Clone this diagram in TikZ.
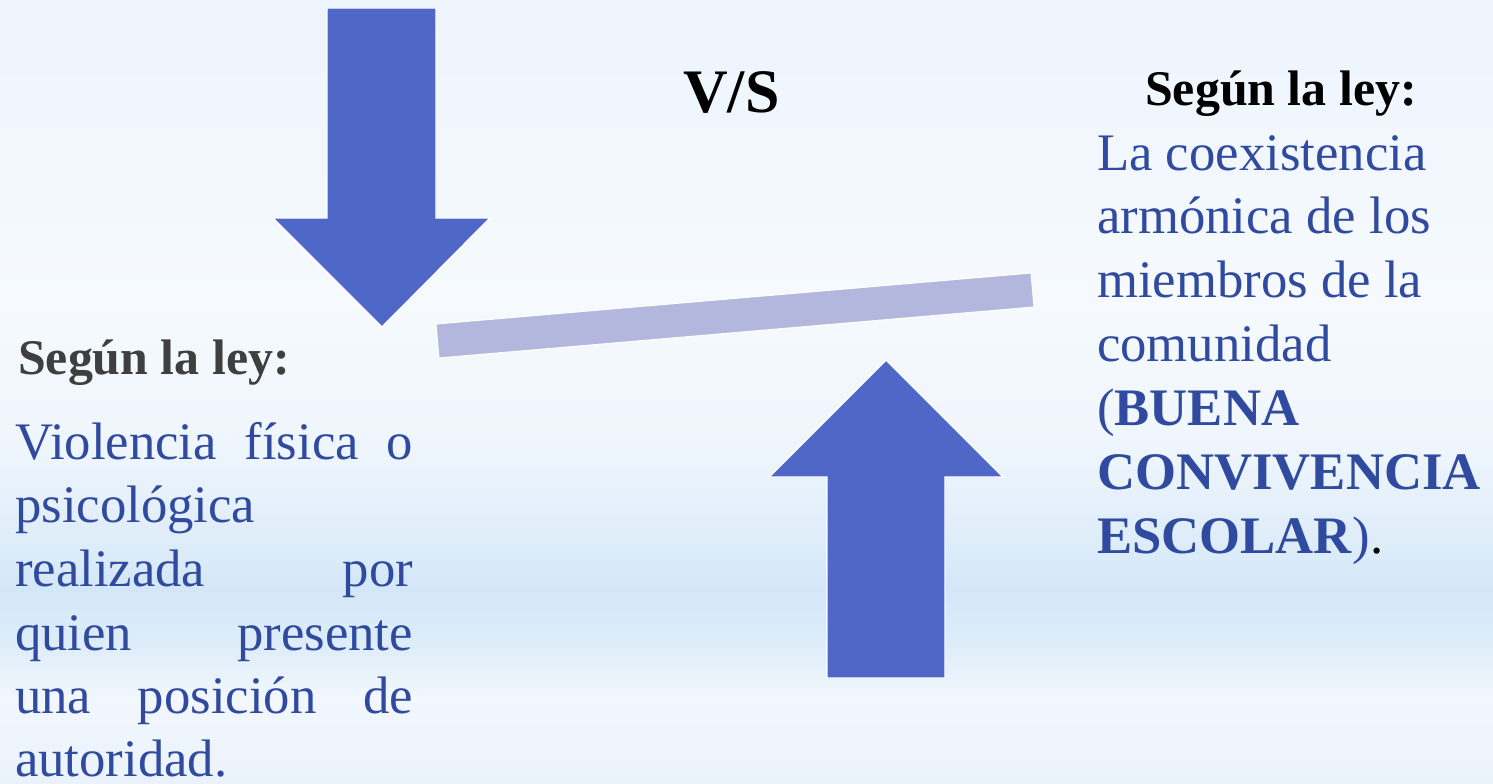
\documentclass[tikz,border=0pt]{standalone}
\usepackage{fontspec}
\setmainfont{Liberation Serif}
\definecolor{arrowblue}{HTML}{4F68C8}
\definecolor{barcol}{HTML}{B3B7DE}
\definecolor{txtblue}{HTML}{2F4A9E}
\definecolor{txtgray}{HTML}{3F3F3F}
\definecolor{bgA}{HTML}{EAF2FB}
\definecolor{bgB}{HTML}{F2F7FD}
\definecolor{bgC}{HTML}{DCECF9}
\definecolor{bgD}{HTML}{D4E7F8}
\definecolor{bgE}{HTML}{EEF5FC}
\definecolor{bgF}{HTML}{F6FAFE}
\definecolor{bgG}{HTML}{EDF4FC}
\pgfdeclareverticalshading{bgshade}{100bp}{color(0bp)=(bgA); color(25bp)=(bgA); color(30.4bp)=(bgB); color(34.2bp)=(bgC); color(37.5bp)=(bgD); color(40bp)=(bgC); color(46.3bp)=(bgE); color(55.9bp)=(bgF); color(75bp)=(bgG); color(100bp)=(bgG)}
\tikzset{
  bigarrow/.style={fill=arrowblue, draw=white, line width=2pt, line join=miter},
  barshape/.style={fill=barcol, draw=white, line width=1.5pt},
  bodytxt/.style={anchor=base west, inner sep=0pt, text=txtblue, font=\fontsize{75}{90}\selectfont},
  headtxt/.style={anchor=base west, inner sep=0pt, font=\fontsize{71}{84}\selectfont\bfseries},
}
\begin{document}
\begin{tikzpicture}[x=0.05cm, y=-0.05cm]
\useasboundingbox (0,0) rectangle (1493,784);
\shade[shading=bgshade] (0,0) rectangle (1493,784);
% down arrow
\draw[bigarrow] (327,8) -- (436,8) -- (436,218) -- (490,218) -- (382,327) -- (273,218) -- (327,218) -- cycle;
% up arrow
\draw[bigarrow] (886,360) -- (1003,477) -- (945,477) -- (945,678) -- (827,678) -- (827,477) -- (769,477) -- cycle;
% bar
\draw[barshape] (436,324) -- (1031,273) -- (1034,307) -- (439,358) -- cycle;
% V/S
\node[anchor=base west, inner sep=0pt, font=\fontsize{88}{100}\selectfont\bfseries] (vs) at (683,112) {V/S};
% left text
\node[headtxt, text=txtgray] (lh) at (18,374) {Según la ley:};
\node[bodytxt] (l1) at (15,459) {\hbox to 566pt{Violencia\hfill física\hfill o}};
\node[bodytxt] (l2) at (15,522) {psicológica};
\node[bodytxt] (l3) at (15,586) {\hbox to 566pt{realizada\hfill por}};
\node[bodytxt] (l4) at (15,650) {\hbox to 566pt{quien\hfill presente}};
\node[bodytxt] (l5) at (15,713) {\hbox to 566pt{una\hfill posición\hfill de}};
\node[bodytxt] (l6) at (15,776) {autoridad.};
% right text
\node[headtxt, text=black] (rh) at (1145,105) {Según la ley:};
\node[bodytxt] (r1) at (1097,170) {La coexistencia};
\node[bodytxt] (r2) at (1097,233) {armónica de los};
\node[bodytxt] (r3) at (1097,297) {miembros de la};
\node[bodytxt] (r4) at (1097,361) {comunidad};
\node[bodytxt] (r5) at (1097,425) {(\textbf{BUENA}};
\node[bodytxt] (r6) at (1097,489) {\textbf{CONVIVENCIA}};
\node[bodytxt] (r7) at (1097,553) {\textbf{ESCOLAR})\textcolor{black}{.}};
\end{tikzpicture}
\end{document}
